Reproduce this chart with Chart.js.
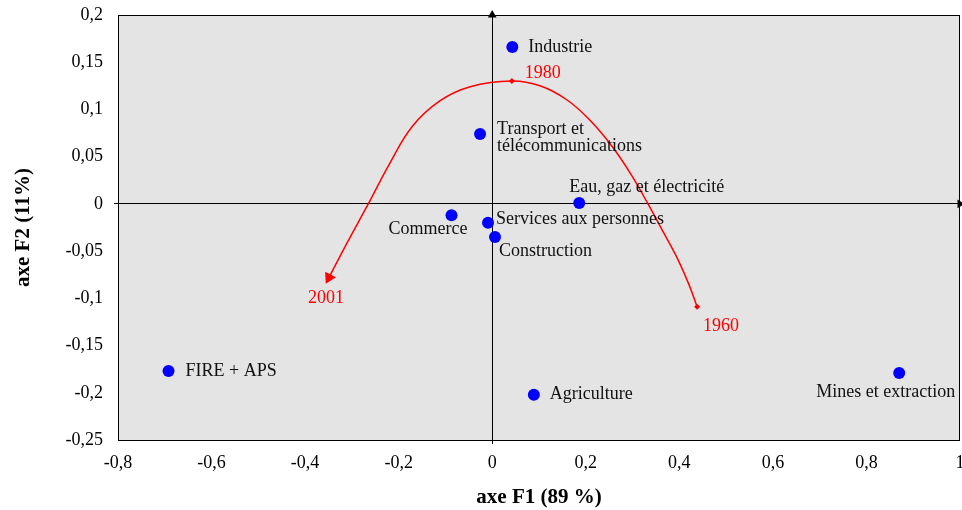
<!DOCTYPE html>
<html>
<head>
<meta charset="utf-8">
<script src="https://cdn.jsdelivr.net/npm/chart.js@4"></script>
<style>
  html, body { margin: 0; padding: 0; background: #ffffff; }
  #wrap { width: 962px; height: 510px; }
</style>
</head>
<body>
<div id="wrap"><canvas id="c" width="962" height="510"></canvas></div>
<script>
// ---- data ----
const sectors = ['Industrie', 'Transport et\ntélécommunications', 'Eau, gaz et électricité', 'Commerce',
  'Services aux personnes', 'Construction', 'FIRE + APS', 'Agriculture', 'Mines et extraction'];
const sectorF1 = [0.043, -0.026, 0.186, -0.087, -0.009, 0.006, -0.692, 0.089, 0.870];
const sectorF2 = [0.166, 0.074, 0.001, -0.012, -0.020, -0.035, -0.177, -0.202, -0.179];

// trajectory, 1960 -> 1980 -> 2001
const pathYears = ['1960', '', '', '', '', '', '', '', '', '', '1980', '', '', '', '', '', '', '2001'];
const pathF1 = [0.438, 0.421, 0.397, 0.367, 0.333, 0.297, 0.256, 0.208, 0.160, 0.102, 0.042,
  -0.047, -0.112, -0.171, -0.219, -0.265, -0.310, -0.349];
const pathF2 = [-0.109, -0.086, -0.059, -0.031, 0.000, 0.031, 0.061, 0.089, 0.110, 0.125, 0.130,
  0.124, 0.109, 0.082, 0.043, 0.000, -0.041, -0.078];

const xTicks = [-0.8, -0.6, -0.4, -0.2, 0, 0.2, 0.4, 0.6, 0.8, 1];
const xTickLabels = ['-0,8', '-0,6', '-0,4', '-0,2', '0', '0,2', '0,4', '0,6', '0,8', '1'];
const yTicks = [0.2, 0.15, 0.1, 0.05, 0, -0.05, -0.1, -0.15, -0.2, -0.25];
const yTickLabels = ['0,2', '0,15', '0,1', '0,05', '0', '-0,05', '-0,1', '-0,15', '-0,2', '-0,25'];

const xTitle = 'axe F1 (89 %)';
const yTitle = 'axe F2 (11%)';

// ---- label placement (pixel offsets from the point) ----
const sectorLabelPos = [
  { dx: 16, dy: 0, align: 'left' },
  { dx: 17, dy: -5, align: 'left' },
  { dx: -10, dy: -16, align: 'left' },
  { dx: 16, dy: 14, align: 'right' },
  { dx: 8, dy: -4, align: 'left' },
  { dx: 4, dy: 14, align: 'left' },
  { dx: 17, dy: 0, align: 'left' },
  { dx: 16, dy: 0, align: 'left' },
  { dx: -83, dy: 19, align: 'left' }
];
const yearLabelPos = {
  '1960': { dx: 6, dy: 19, align: 'left' },
  '1980': { dx: 13, dy: -8, align: 'left' },
  '2001': { dx: -21, dy: 21, align: 'left' }
};

const SERIF = '"Liberation Serif", "Times New Roman", serif';

const bgPlugin = {
  id: 'bg',
  beforeDraw(chart) {
    const a = chart.chartArea, ctx = chart.ctx;
    ctx.save();
    ctx.fillStyle = '#e4e4e4';
    ctx.fillRect(a.left, a.top, a.right - a.left, a.bottom - a.top);
    ctx.restore();
  },
  afterDraw(chart) {
    const a = chart.chartArea, ctx = chart.ctx;
    ctx.save();
    ctx.strokeStyle = '#000';
    ctx.lineWidth = 1;
    ctx.strokeRect(Math.round(a.left) + 0.5, Math.round(a.top) + 0.5,
      Math.round(a.right - a.left) - 1, Math.round(a.bottom - a.top));
    ctx.restore();
  }
};

const labelPlugin = {
  id: 'labels',
  afterDatasetsDraw(chart) {
    const ctx = chart.ctx;
    ctx.save();
    ctx.font = '18px ' + SERIF;
    ctx.textBaseline = 'middle';
    const m0 = chart.getDatasetMeta(0);
    sectors.forEach((s, i) => {
      const el = m0.data[i], p = sectorLabelPos[i];
      ctx.fillStyle = '#111';
      ctx.textAlign = p.align;
      const lines = s.split('\n');
      lines.forEach((ln, k) => ctx.fillText(ln, el.x + p.dx, el.y + p.dy + k * 17));
    });
    const m1 = chart.getDatasetMeta(1);
    pathYears.forEach((yr, i) => {
      if (!yr) return;
      const el = m1.data[i], p = yearLabelPos[yr];
      ctx.fillStyle = '#ff0000';
      ctx.textAlign = p.align;
      ctx.fillText(yr, el.x + p.dx, el.y + p.dy);
    });
    ctx.restore();
  }
};

const zeroColor = (ctx) => (ctx.tick && ctx.tick.value === 0 ? '#000' : 'rgba(0,0,0,0)');
const lastIdx = pathYears.length - 1;

new Chart(document.getElementById('c'), {
  type: 'scatter',
  data: {
    datasets: [
      {
        label: 'secteurs',
        data: sectors.map((s, i) => ({ x: sectorF1[i], y: sectorF2[i] })),
        backgroundColor: '#0000ff',
        borderWidth: 0,
        pointRadius: 6,
        pointHoverRadius: 6
      },
      {
        label: 'trajectoire',
        type: 'line',
        data: pathF1.map((v, i) => ({ x: v, y: pathF2[i] })),
        borderColor: '#ff0000',
        backgroundColor: '#ff0000',
        borderWidth: 1.5,
        tension: 0.4,
        fill: false,
        pointStyle: pathYears.map((y, i) => i === lastIdx ? 'triangle' : 'rectRot'),
        pointRadius: pathYears.map((y, i) => i === lastIdx ? 7 : (y ? 3 : 0)),
        pointRotation: pathYears.map((y, i) => i === lastIdx ? 207 : 0),
        pointBorderWidth: 0
      },
      {
        label: 'axes',
        data: [{ x: 0, y: yTicks[0] }, { x: xTicks[xTicks.length - 1], y: 0 }],
        backgroundColor: '#000',
        borderWidth: 0,
        pointStyle: 'triangle',
        pointRadius: 5,
        pointRotation: [0, 90],
        clip: false
      }
    ]
  },
  options: {
    responsive: false,
    animation: false,
    devicePixelRatio: 1,
    layout: { autoPadding: false, padding: { top: 15, right: 2, left: 0, bottom: 0 } },
    plugins: { legend: { display: false }, tooltip: { enabled: false } },
    scales: {
      x: {
        type: 'linear',
        min: xTicks[0], max: xTicks[xTicks.length - 1],
        afterBuildTicks: (s) => { s.ticks = xTicks.map(v => ({ value: v })); },
        afterFit: (s) => { s.height = 70; s.paddingLeft = 0; s.paddingRight = 0; },
        ticks: {
          callback: (v, i) => xTickLabels[i],
          font: { family: SERIF, size: 18 },
          color: '#000',
          padding: 8,
          maxRotation: 0
        },
        grid: { color: zeroColor, tickColor: zeroColor, tickLength: 4, lineWidth: 1 },
        border: { display: false },
        title: {
          display: true, text: xTitle, color: '#000',
          font: { family: SERIF, size: 21, weight: 'bold' },
          padding: { top: 0, bottom: 0 }
        }
      },
      y: {
        type: 'linear',
        min: yTicks[yTicks.length - 1], max: yTicks[0],
        afterBuildTicks: (s) => { s.ticks = yTicks.slice().reverse().map(v => ({ value: v })); },
        afterFit: (s) => { s.width = 118; s.paddingTop = 0; s.paddingBottom = 0; },
        ticks: {
          callback: (v, i) => yTickLabels[yTickLabels.length - 1 - i],
          font: { family: SERIF, size: 18 },
          color: '#000',
          padding: 11
        },
        grid: { color: zeroColor, tickColor: zeroColor, tickLength: 4, lineWidth: 1 },
        border: { display: false },
        title: {
          display: true, text: yTitle, color: '#000',
          font: { family: SERIF, size: 21, weight: 'bold' },
          padding: { top: 11, bottom: 0 }
        }
      }
    }
  },
  plugins: [bgPlugin, labelPlugin]
});
</script>
</body>
</html>
